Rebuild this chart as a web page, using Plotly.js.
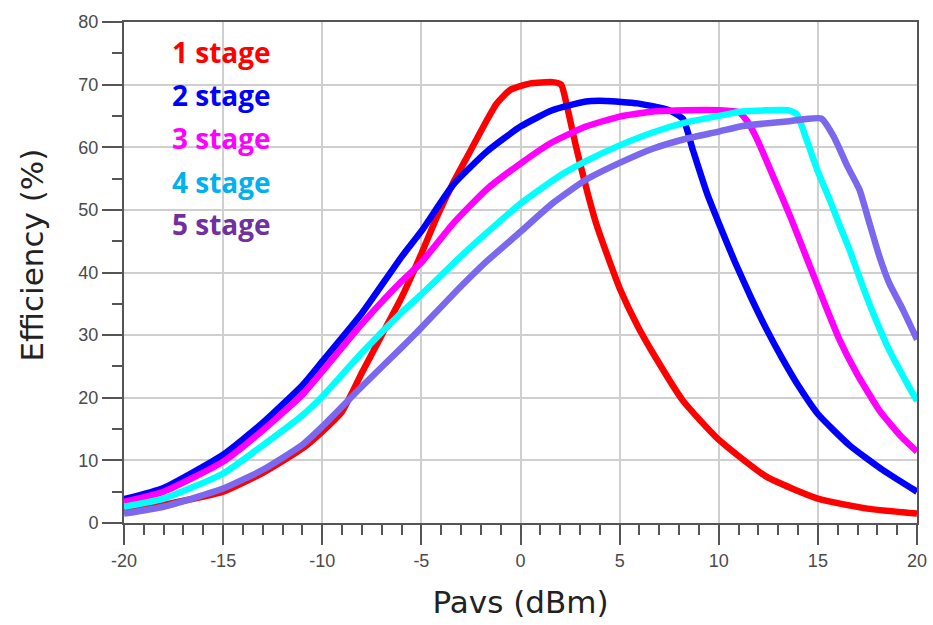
<!DOCTYPE html>
<html>
<head>
<meta charset="utf-8">
<script src="https://cdn.plot.ly/plotly-3.0.1.min.js"></script>
<style>html,body{margin:0;padding:0;background:#fff;}#chart{width:933px;height:625px;}</style>
</head>
<body>
<div id="chart"></div>
<script>
// Series names and colours
const seriesNames = ["1 stage", "2 stage", "3 stage", "4 stage", "5 stage"];
const lineColors = ["#ff0000", "#0000ff", "#ff00ff", "#00ffff", "#7b68ee"];
const labelColors = ["#ff0000", "#0000ff", "#ff00ff", "#00b0f0", "#7030a0"];

// 1 stage
const x1 = [-20, -18, -15, -13, -11, -10, -9, -8, -7, -6, -5, -4.2, -3.4, -2.6, -1.7, -1.2, -0.5, 0.5, 1.6, 2.05, 2.35, 2.7, 3.0, 3.4, 3.8, 4.35, 5.0, 5.9, 6.8, 8.2, 10, 12.4, 15, 17.5, 20];
const y1 = [1.8, 2.9, 5.0, 8.0, 11.9, 14.6, 17.8, 24, 30, 36, 43, 49, 54.3, 59, 64.3, 67, 69.2, 70.2, 70.4, 70.0, 66.5, 61.5, 57.5, 52.5, 48, 43, 37.5, 31.5, 26.5, 19.5, 13.3, 7.4, 3.9, 2.3, 1.5];
// 2 stage
const x2 = [-20, -18, -15, -13, -11, -10, -8, -6, -5, -3.4, -1.7, 0, 1.6, 3.3, 4.3, 5.9, 7.5, 8.2, 8.7, 9.4, 10, 10.8, 11.6, 12.4, 13.2, 14.1, 15, 16.6, 18.3, 20];
const y2 = [3.8, 5.6, 10.9, 16, 22, 25.8, 33.5, 42.5, 46.6, 54, 59.3, 63.3, 65.9, 67.3, 67.4, 67.0, 65.9, 64.5, 59.5, 52.7, 47.9, 41.8, 36.2, 31, 26.3, 21.5, 17.4, 12.4, 8.4, 5.0];
// 3 stage
const x3 = [-20, -18, -15, -13, -11, -10, -8, -6, -5, -3.4, -1.7, 0, 1.6, 3.3, 5, 6.7, 8.4, 10, 11.0, 11.4, 11.9, 12.9, 13.6, 14.4, 15.27, 16.1, 16.96, 18.1, 19.2, 20];
const y3 = [3.4, 5.0, 9.8, 14.8, 20.5, 24.2, 31.8, 38.6, 41.6, 47.8, 53.3, 57.4, 60.8, 63.3, 64.9, 65.7, 65.9, 65.9, 65.6, 64.3, 61.5, 54.2, 49, 42.6, 35.6, 29.2, 23.9, 18.0, 13.8, 11.4];
// 4 stage
const x4 = [-20, -18, -15, -13, -11, -10, -8, -6, -5, -2.7, 0, 2, 3.3, 5, 6.7, 8.4, 10, 11.2, 13.5, 13.93, 14.43, 15.0, 15.6, 16.1, 16.6, 17.1, 17.8, 18.6, 19.5, 20];
const y4 = [2.6, 3.9, 7.9, 12.4, 17.2, 20.2, 27.2, 33.6, 36.5, 43.5, 51, 55.5, 57.8, 60.3, 62.4, 64.0, 65.0, 65.7, 65.9, 65.3, 61.2, 56.1, 51.6, 47.5, 43.6, 39.2, 33.4, 27.6, 22.3, 19.5];
// 5 stage
const x5 = [-20, -18, -15, -13, -11, -10, -8, -6, -5, -3.4, -1.7, 0, 1.6, 3.3, 5, 6.7, 8.4, 10, 11.2, 13.4, 15.17, 15.8, 16.5, 17.1, 17.6, 18.1, 18.6, 19.3, 20];
const y5 = [1.5, 2.6, 5.5, 8.5, 12.5, 15.4, 21.8, 28, 31.2, 36.5, 41.8, 46.5, 51, 54.8, 57.5, 59.8, 61.4, 62.5, 63.4, 64.1, 64.6, 61.7, 56.9, 53.2, 47.9, 42.6, 38.3, 34, 29.3];

const xs = [x1, x2, x3, x4, x5];
const ys = [y1, y2, y3, y4, y5];

// Axis settings
const xRange = [-20, 20];
const yRange = [0, 80];
const xMinorTicks = [-19, -18, -17, -16, -14, -13, -12, -11, -9, -8, -7, -6, -4, -3, -2, -1, 1, 2, 3, 4, 6, 7, 8, 9, 11, 12, 13, 14, 16, 17, 18, 19];
const yMinorTicks = [5, 15, 25, 35, 45, 55, 65, 75];
// plain hyphen for negative tick labels (Plotly draws U+2212 by default)
const xLabelAlias = {"\u221220": "-20", "\u221215": "-15", "\u221210": "-10", "\u22125": "-5"};
const xTitle = "Pavs (dBm)";
const yTitle = "Efficiency (%)";

const W = 933, H = 625;
const margin = {l: 124, r: 16, t: 22, b: 102};
const plotH = H - margin.t - margin.b;

const traces = xs.map((x, i) => ({
  x: x, y: ys[i], type: "scatter", mode: "lines", name: seriesNames[i],
  line: {color: lineColors[i], width: 6.5, shape: "spline", smoothing: 0.5},
  showlegend: false, hoverinfo: "skip"
}));

// x-axis minor tick marks: short vertical line markers hanging just under the axis
const minorTickLen = 10;
const minorTickY = -(minorTickLen / 2) / plotH * (yRange[1] - yRange[0]);
traces.push({
  x: xMinorTicks, y: xMinorTicks.map(() => minorTickY), type: "scatter", mode: "markers",
  marker: {symbol: "line-ns", size: minorTickLen, color: "#555", line: {color: "#555", width: 2}},
  cliponaxis: false, showlegend: false, hoverinfo: "skip"
});

const legendY = [0.940, 0.854, 0.768, 0.681, 0.597];
const annotations = seriesNames.map((n, i) => ({
  text: "<b>" + n + "</b>", xref: "paper", yref: "paper", x: 0.058, y: legendY[i],
  xanchor: "left", yanchor: "middle", showarrow: false,
  font: {family: "'Open Sans', sans-serif", size: 28, color: labelColors[i]}
}));
annotations.push({
  text: yTitle, xref: "paper", yref: "paper", x: -0.116, y: 0.534,
  xanchor: "center", yanchor: "middle", showarrow: false, textangle: -90,
  font: {family: "DejaVu Sans, sans-serif", size: 31, color: "#222"}
});

const tickFont = {family: "Liberation Sans, Arial, sans-serif", size: 18, color: "#4a4a4a"};
const axisCommon = {
  showline: true, linecolor: "#555", linewidth: 2, mirror: true,
  ticks: "outside", ticklen: 20, tickwidth: 2, tickcolor: "#555",
  showgrid: true, gridcolor: "#cfcfcf", gridwidth: 2, zeroline: false,
  tickfont: tickFont
};

const layout = {
  width: W, height: H,
  margin: margin,
  paper_bgcolor: "#fff", plot_bgcolor: "#fff",
  showlegend: false,
  xaxis: Object.assign({}, axisCommon, {
    range: xRange, tickmode: "linear", dtick: 5, tick0: -20, labelalias: xLabelAlias,
    minor: {tickmode: "array", tickvals: xMinorTicks, ticks: "outside", ticklen: 10, tickwidth: 2, tickcolor: "#555", showgrid: false},
    title: {text: xTitle, font: {family: "DejaVu Sans, sans-serif", size: 31, color: "#222"}, standoff: 22}
  }),
  yaxis: Object.assign({}, axisCommon, {
    range: yRange, tickmode: "linear", dtick: 10, tick0: 0,
    minor: {tickmode: "array", tickvals: yMinorTicks, ticks: "outside", ticklen: 10, tickwidth: 2, tickcolor: "#555", showgrid: false}
  }),
  annotations: annotations
};

Plotly.newPlot("chart", traces, layout, {staticPlot: true, displayModeBar: false});
</script>
</body>
</html>
